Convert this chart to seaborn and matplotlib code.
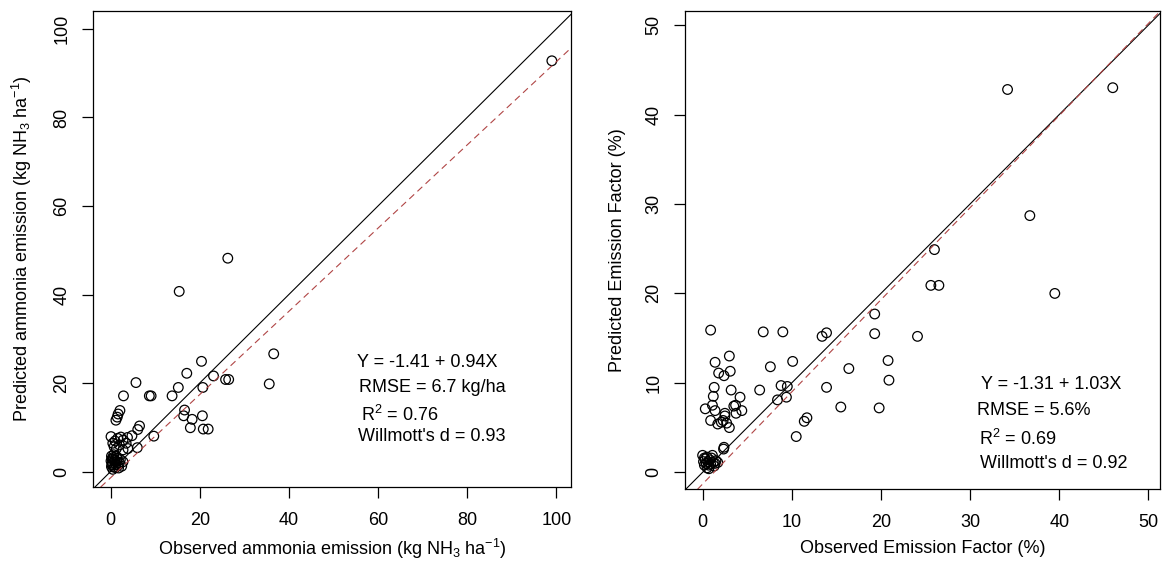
import numpy as np
import seaborn as sns
from matplotlib import pyplot as plt

# left panel: ammonia emission (kg NH3/ha)
nh3_obs = [99.0, 15.4, 26.3, 36.6, 35.6, 20.4, 17.1, 23.1, 25.8, 26.5,
           20.7, 15.2, 13.8, 8.7, 9.1, 5.7, 2.9, 2.1, 1.7, 1.5, 1.2,
           16.6, 16.4, 18.3, 20.6, 17.9, 20.8, 21.9, 9.7, 6.5, 6.1,
           4.8, 3.8, 6.0,
           0.1, 1.6, 2.8, 0.5, 2.0, 3.5, 1.3, 2.8, 3.9, 1.0, 2.3, 0.8,
           0.2, 0.5, 1.0, 0.3, 0.8, 1.5, 2.0, 0.5, 1.2, 0.1, 2.5, 0.7, 1.8, 2.8,
           0.4, 0.9, 1.4, 0.2, 1.7, 0.6, 1.1, 0.3, 2.2, 1.3]
nh3_pred = [92.8, 40.7, 48.2, 26.6, 19.8, 24.9, 22.2, 21.6, 20.8, 20.8,
            19.0, 19.0, 17.1, 17.1, 17.1, 20.1, 17.1, 13.8, 13.0, 12.3, 11.6,
            13.9, 12.6, 11.8, 12.6, 9.9, 9.6, 9.6, 8.0, 10.3, 9.5,
            8.1, 7.7, 5.4,
            7.9, 7.5, 7.1, 6.4, 6.0, 6.4, 5.2, 4.9, 5.2, 6.9, 7.8, 5.6,
            3.5, 2.8, 2.2, 1.5, 1.0, 3.0, 2.0, 0.5, 1.6, 2.4, 1.2, 3.8, 0.8, 2.2,
            1.9, 2.6, 2.3, 1.1, 1.4, 3.2, 0.9, 2.9, 2.7, 3.4]

# right panel: emission factor (%)
ef_obs = [34.2, 46.0, 36.7, 26.0, 25.6, 26.5, 39.5, 24.1, 20.8,
          19.3, 19.3, 20.9, 16.4, 13.9, 15.5, 19.8, 11.7, 11.4, 10.5,
          0.9, 6.8, 9.0, 13.4, 13.9,
          10.1, 7.6, 6.4, 8.8, 9.5, 8.4, 9.4,
          3.0, 1.4, 1.8, 2.4, 3.1, 1.3, 3.2, 1.2, 4.2, 1.1, 0.3, 3.5, 3.7,
          4.4, 3.75, 1.4, 2.5, 2.5, 0.9, 1.7, 2.1, 2.3, 2.7, 3.0,
          2.4, 2.35,
          0.0, 0.3, 0.6, 1.0, 1.5, 0.2, 0.5, 0.9, 1.3, 0.1, 0.7, 1.7, 0.4, 1.1,
          0.8, 1.2, 0.5, 0.2, 1.4, 0.7]
ef_pred = [42.8, 43.0, 28.7, 24.9, 20.9, 20.9, 20.0, 15.2, 12.5,
           17.7, 15.5, 10.3, 11.6, 9.5, 7.3, 7.2, 6.1, 5.7, 4.0,
           15.9, 15.7, 15.7, 15.2, 15.6,
           12.4, 11.8, 9.2, 9.7, 9.6, 8.1, 8.4,
           13.0, 12.3, 11.1, 10.8, 11.3, 9.5, 9.2, 8.5, 8.4, 7.5, 7.1, 7.4, 7.5,
           6.9, 6.6, 6.9, 6.6, 6.3, 5.8, 5.4, 5.6, 5.8, 5.5, 5.0,
           2.8, 2.6,
           1.9, 1.5, 1.2, 1.6, 1.3, 0.8, 0.5, 0.9, 0.7, 1.2, 0.4, 1.1, 1.0, 1.9,
           1.4, 1.1, 1.7, 1.6, 1.0, 0.8]

nh3_fit = (-1.41, 0.94)
ef_fit = (-1.31, 1.03)
nh3_stats = ["Y = -1.41 + 0.94X", "RMSE = 6.7 kg/ha", "R$^2$ = 0.76", "Willmott's d = 0.93"]
ef_stats = ["Y = -1.31 + 1.03X", "RMSE = 5.6%", "R$^2$ = 0.69", "Willmott's d = 0.92"]

sns.set_theme(style="white")
plt.rcParams["font.family"] = ["Liberation Sans", "DejaVu Sans"]
plt.rcParams["mathtext.fontset"] = "custom"
plt.rcParams["mathtext.rm"] = "Liberation Sans"
plt.rcParams["mathtext.it"] = "Liberation Sans:italic"
plt.rcParams["axes.labelcolor"] = "black"
plt.rcParams["text.color"] = "black"

fig = plt.figure(figsize=(11.62, 5.67), dpi=100)
ax1 = fig.add_axes([0.0798, 0.141, 0.412, 0.840])
ax2 = fig.add_axes([0.5893, 0.137, 0.409, 0.844])


def draw_panel(ax, obs, pred, fit, stats, lim, ticks, stat_xy, xlabel, ylabel):
    sns.scatterplot(x=obs, y=pred, ax=ax, marker="o", s=48,
                    facecolors="none", edgecolors="black", linewidths=0.9)
    ax.axline((0, 0), slope=1, color="black", lw=0.8)
    ax.axline((0, fit[0]), slope=fit[1], color="#b04545", lw=0.8, dashes=(6, 4))
    ax.set_xlim(lim[0])
    ax.set_ylim(lim[1])
    ax.set_xticks(ticks)
    ax.set_yticks(ticks)
    for side in ax.spines.values():
        side.set_color("black")
        side.set_linewidth(0.9)
    ax.tick_params(axis="both", direction="out", length=8, width=0.9,
                   labelsize=13, colors="black", bottom=True, left=True)
    ax.tick_params(axis="x", pad=10)
    ax.tick_params(axis="y", pad=8)
    for lab in ax.get_yticklabels():
        lab.set_rotation(90)
        lab.set_va("center")
    ax.set_xlabel(xlabel, fontsize=13, labelpad=6, color="black")
    ax.set_ylabel(ylabel, fontsize=13, labelpad=14, color="black")
    for (tx, ty), txt in zip(stat_xy, stats):
        ax.text(tx, ty, txt, fontsize=13, va="center", ha="left", color="black")


draw_panel(ax1, nh3_obs, nh3_pred, nh3_fit, nh3_stats,
           ((-4.0, 103.4), (-3.5, 104.1)), np.arange(0, 101, 20),
           [(55.3, 24.6), (55.7, 19.0), (56.1, 12.9), (55.6, 7.9)],
           "Observed ammonia emission (kg NH$_3$ ha$^{-1}$)",
           "Predicted ammonia emission (kg NH$_3$ ha$^{-1}$)")
draw_panel(ax2, ef_obs, ef_pred, ef_fit, ef_stats,
           ((-2.0, 51.3), (-1.9, 51.6)), np.arange(0, 51, 10),
           [(31.2, 9.85), (30.8, 6.96), (31.0, 3.7), (31.1, 0.97)],
           "Observed Emission Factor (%)",
           "Predicted Emission Factor (%)")

fig.savefig("out.png", dpi=100, facecolor="white")
